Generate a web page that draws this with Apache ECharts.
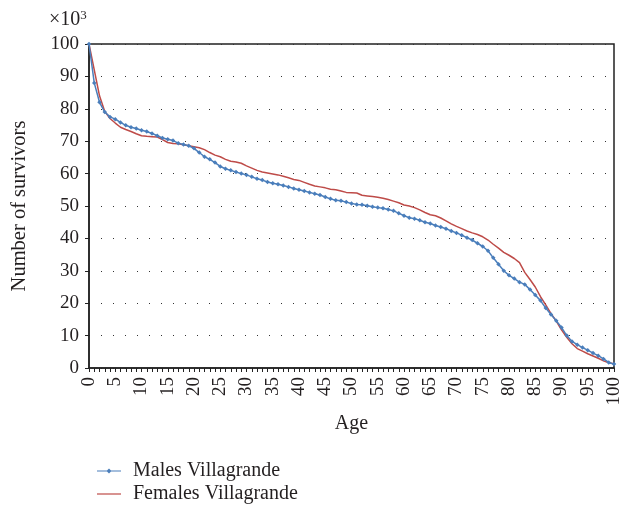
<!DOCTYPE html>
<html>
<head>
<meta charset="utf-8">
<script src="https://cdn.jsdelivr.net/npm/echarts@6/dist/echarts.min.js"></script>
<style>
  html, body { margin: 0; padding: 0; background: #fff; }
  #chart { width: 633px; height: 506px; }
</style>
</head>
<body>
<div id="chart"></div>
<script>
// ages 0..100
var ages = [];
for (var a = 0; a <= 100; a++) ages.push(String(a));

// survivors (x10^3)
var males = [
  100, 88, 82, 79, 77.5, 76.8, 75.8, 74.9, 74.3, 73.9,
  73.4, 73, 72.4, 71.7, 71, 70.6, 70.2, 69.4, 69, 68.6,
  67.8, 66.5, 65.2, 64.4, 63.4, 62.2, 61.5, 61, 60.5, 60,
  59.6, 59, 58.4, 58, 57.4, 57, 56.7, 56.3, 55.9, 55.4,
  55, 54.6, 54.2, 53.8, 53.4, 52.8, 52.2, 51.8, 51.6, 51.2,
  50.8, 50.5, 50.4, 50.1, 49.8, 49.5, 49.3, 48.9, 48.5, 47.8,
  47, 46.4, 46.1, 45.6, 45, 44.6, 44, 43.5, 43, 42.3,
  41.7, 41, 40.2, 39.5, 38.5, 37.5, 36.2, 34, 32, 30,
  28.6, 27.6, 26.5, 25.8, 24.2, 22.5, 20.8, 18.5, 16.5, 14.6,
  12.5, 10, 8.2, 7.2, 6.3, 5.5, 4.6, 3.8, 2.8, 1.7,
  1.2
];
var females = [
  100, 92, 84, 79.2, 77, 75.6, 74.3, 73.6, 73, 72.3,
  71.7, 71.5, 71.4, 71.3, 70.5, 69.6, 69.3, 69.2, 68.9, 68.6,
  68.3, 68, 67.4, 66.5, 65.7, 65.2, 64.4, 63.8, 63.6, 63.2,
  62.4, 61.7, 61, 60.5, 60.2, 59.9, 59.6, 59.2, 58.7, 58.2,
  57.9, 57.3, 56.7, 56.2, 55.9, 55.6, 55.2, 55, 54.6, 54.2,
  54.1, 54, 53.3, 53.1, 52.9, 52.7, 52.4, 52, 51.5, 51,
  50.3, 50, 49.5, 48.8, 48, 47.3, 47, 46.3, 45.4, 44.5,
  43.7, 43, 42.3, 41.7, 41.2, 40.5, 39.5, 38.2, 37, 35.7,
  34.8, 33.8, 32.5, 29.5, 27.3, 25, 22, 19.5, 16.8, 14.5,
  11.8, 9.5, 7.5, 6, 5.2, 4.4, 3.7, 3, 2.2, 1.6,
  1.3
];

var font = '"Liberation Serif", "DejaVu Serif", serif';
var ink = '#231f20';
var blue = '#4a7ebb';
var red = '#be4b48';

var maleIcon = 'path://M0,5.4 L10,5.4 L12,3.5 L14,5.4 L24,5.4 L24,6.6 L14,6.6 L12,8.5 L10,6.6 L0,6.6 Z';
var femaleIcon = 'path://M0,5.4 L24,5.4 L24,6.6 L0,6.6 Z';

var myChart = echarts.init(document.getElementById('chart'), null, { renderer: 'canvas' });
var option = {
  animation: false,
  backgroundColor: '#fff',
  textStyle: { fontFamily: font, color: ink },
  title: {
    text: '×10{sup|3}',
    left: 44,
    top: 4,
    textStyle: {
      fontFamily: font, fontSize: 20, fontWeight: 'normal', color: ink,
      rich: { sup: { fontFamily: font, fontSize: 13, color: ink, verticalAlign: 'top', padding: [0, 0, 9, 0] } }
    }
  },
  grid: {
    left: 89, right: 19, top: 44, bottom: 138,
    show: true, borderColor: '#222', borderWidth: 1.5, backgroundColor: 'transparent'
  },
  legend: [
    {
      left: 92, top: 456,
      itemWidth: 24, itemHeight: 12,
      textStyle: { fontFamily: font, fontSize: 20, color: ink, padding: [0, 0, 0, 7] },
      data: [{ name: 'Males Villagrande', icon: maleIcon }]
    },
    {
      left: 92, top: 479,
      itemWidth: 24, itemHeight: 12,
      textStyle: { fontFamily: font, fontSize: 20, color: ink, padding: [0, 0, 0, 7] },
      data: [{ name: 'Females Villagrande', icon: femaleIcon }]
    }
  ],
  xAxis: {
    type: 'category',
    data: ages,
    boundaryGap: false,
    name: 'Age',
    nameLocation: 'middle',
    nameGap: 46,
    nameTextStyle: { fontFamily: font, fontSize: 20, color: ink },
    axisLine: { lineStyle: { color: '#222', width: 1.5 } },
    axisTick: { interval: 0, length: 4, lineStyle: { color: '#222', width: 1 } },
    axisLabel: { interval: 4, rotate: 90, margin: 9, fontFamily: font, fontSize: 19, color: ink },
    splitLine: { show: false }
  },
  yAxis: {
    type: 'value',
    min: 0, max: 100, interval: 10,
    name: 'Number of survivors',
    nameLocation: 'middle',
    nameGap: 59,
    nameTextStyle: { fontFamily: font, fontSize: 20.5, color: ink },
    axisLine: { show: true, lineStyle: { color: '#222', width: 1.5 } },
    axisTick: { show: true, length: 4, lineStyle: { color: '#222' } },
    axisLabel: { margin: 10, fontFamily: font, fontSize: 19, color: ink },
    splitLine: { show: true, lineStyle: { color: '#333', width: 1, type: [1, 11], dashOffset: 0 } }
  },
  series: [
    {
      name: 'Males Villagrande',
      type: 'line',
      data: males,
      symbol: 'diamond',
      symbolSize: 4.5,
      showSymbol: true,
      showAllSymbol: true,
      itemStyle: { color: blue },
      lineStyle: { color: blue, width: 1.5 },
      z: 3
    },
    {
      name: 'Females Villagrande',
      type: 'line',
      data: females,
      symbol: 'none',
      itemStyle: { color: red },
      lineStyle: { color: red, width: 1.5 },
      z: 2
    }
  ]
};
myChart.setOption(option);
window.addEventListener('resize', function () {
  myChart.resize();
});
</script>
</body>
</html>
